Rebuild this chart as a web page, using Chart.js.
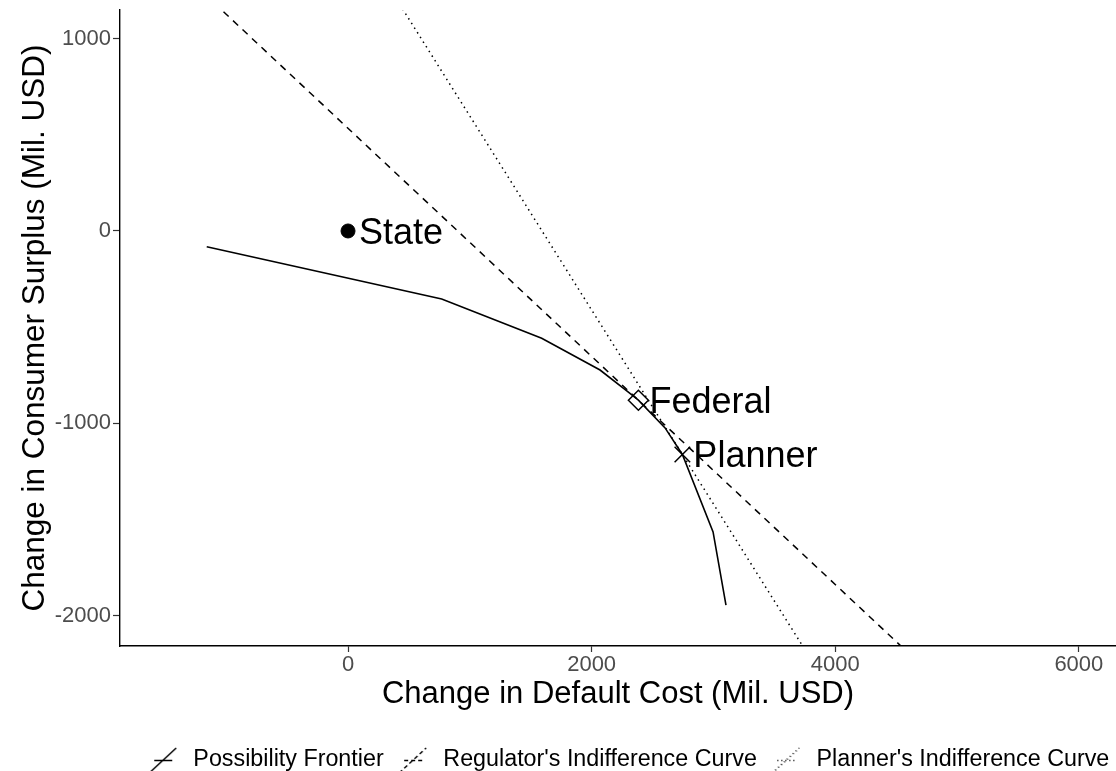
<!DOCTYPE html>
<html>
<head>
<meta charset="utf-8">
<script src="https://cdn.jsdelivr.net/npm/chart.js@4"></script>
<style>
  body { margin: 0; background: #fff; }
  #wrap { width: 1116px; height: 771px; }
</style>
</head>
<body>
<div id="wrap"><canvas id="myChart" width="1116" height="771"></canvas></div>
<script>
// tick labels
const xTicks = [0, 2000, 4000, 6000];
const yTicks = [-2000, -1000, 0, 1000];

// possibility frontier
const frontierX = [-1160, 769, 1590, 2069, 2299, 2384, 2603, 2745, 2997, 3103];
const frontierY = [-82, -354, -558, -723, -837, -880, -1024, -1162, -1565, -1945];

// indifference curves (end points, clipped by the axes)
const regulatorX = [-1100, 4600];
const regulatorY = [1186, -2194];
const plannerX = [400, 3760];
const plannerY = [1203, -2186];

// labelled outcomes
const outcomeNames = ['State', 'Federal', 'Planner'];
const outcomeX = [0, 2384, 2745];
const outcomeY = [0, -880, -1162];

const seriesNames = ['Possibility Frontier', "Regulator's Indifference Curve", "Planner's Indifference Curve"];

const FONT = "'Liberation Sans', Arial, sans-serif";
const LEGEND_SIZE = 23.3;
const LEGEND_PAD = 9;

function toXY(xs, ys) {
    return xs.map((x, i) => ({ x: x, y: ys[i] }));
}

// legend key like ggplot: a diagonal with a short horizontal stroke
function legendGlyph(dash) {
    const c = document.createElement('canvas');
    c.width = 30; c.height = 28;
    const g = c.getContext('2d');
    g.strokeStyle = '#000';
    g.lineWidth = 1.5;
    g.setLineDash(dash);
    g.beginPath();
    g.moveTo(2, 27);
    g.lineTo(29, 2);
    g.moveTo(7, 14.5);
    g.lineTo(25, 14.5);
    g.stroke();
    return c;
}

const outcomeLabels = {
    id: 'outcomeLabels',
    afterDatasetsDraw(chart) {
        const ctx = chart.ctx;
        ctx.save();
        ctx.font = '36px ' + FONT;
        ctx.fillStyle = '#000';
        ctx.textBaseline = 'middle';
        outcomeNames.forEach((name, i) => {
            const el = chart.getDatasetMeta(3 + i).data[0];
            ctx.fillText(name, el.x + 11, el.y + 3);
        });
        ctx.restore();
    }
};

// put the legend row where ggplot puts it
const legendShift = {
    id: 'legendShift',
    afterLayout(chart) {
        const l = chart.legend;
        l.left += 68; l.right += 68;
        const h = l.height;
        l.top = 760 - LEGEND_PAD - LEGEND_SIZE / 2;
        l.bottom = l.top + h;
    }
};

const ctx = document.getElementById('myChart').getContext('2d');
new Chart(ctx, {
    type: 'scatter',
    data: {
        datasets: [{
            label: seriesNames[0],
            data: toXY(frontierX, frontierY),
            showLine: true,
            borderColor: '#000',
            borderWidth: 1.6,
            pointRadius: 0,
            pointStyle: legendGlyph([])
        }, {
            label: seriesNames[1],
            data: toXY(regulatorX, regulatorY),
            showLine: true,
            borderColor: '#000',
            borderWidth: 1.5,
            borderDash: [7, 6],
            pointRadius: 0,
            pointStyle: legendGlyph([4, 3])
        }, {
            label: seriesNames[2],
            data: toXY(plannerX, plannerY),
            showLine: true,
            borderColor: '#000',
            borderWidth: 1.5,
            borderDash: [1.5, 4],
            pointRadius: 0,
            pointStyle: legendGlyph([1, 3])
        }, {
            label: outcomeNames[0],
            data: [{ x: outcomeX[0], y: outcomeY[0] }],
            pointStyle: 'circle',
            pointRadius: 7,
            backgroundColor: '#000',
            borderColor: '#000'
        }, {
            label: outcomeNames[1],
            data: [{ x: outcomeX[1], y: outcomeY[1] }],
            pointStyle: 'rectRot',
            pointRadius: 10,
            backgroundColor: '#fff',
            borderColor: '#000',
            borderWidth: 1.5
        }, {
            label: outcomeNames[2],
            data: [{ x: outcomeX[2], y: outcomeY[2] }],
            pointStyle: 'crossRot',
            pointRadius: 11,
            borderColor: '#000',
            borderWidth: 1.5
        }]
    },
    options: {
        responsive: false,
        animation: false,
        layout: { autoPadding: false, padding: { top: 10, right: 0, left: 0, bottom: 0 } },
        plugins: {
            tooltip: { enabled: false },
            legend: {
                position: 'bottom',
                labels: {
                    filter: item => item.datasetIndex < 3,
                    usePointStyle: true,
                    pointStyleWidth: 39,
                    color: '#000',
                    font: { family: FONT, size: LEGEND_SIZE },
                    padding: LEGEND_PAD
                }
            }
        },
        scales: {
            x: {
                type: 'linear',
                min: -1872,
                max: 6305,
                afterBuildTicks: scale => { scale.ticks = xTicks.map(v => ({ value: v })); },
                afterFit: scale => {
                    const lg = scale.chart.legend;
                    scale.height = 771 - 646 - (lg ? lg.height : 0);
                    scale.paddingLeft = 0;
                    scale.paddingRight = 0;
                },
                ticks: { color: '#4d4d4d', font: { family: FONT, size: 22 }, padding: 0, callback: v => String(v) },
                grid: { drawOnChartArea: false, tickLength: 6, color: '#333', tickWidth: 1.2 },
                border: { display: true, color: '#000', width: 1.4 },
                title: { display: true, text: 'Change in Default Cost (Mil. USD)', color: '#000', font: { family: FONT, size: 31 }, padding: { top: 0, bottom: 16 } }
            },
            y: {
                type: 'linear',
                min: -2158,
                max: 1149,
                afterBuildTicks: scale => { scale.ticks = yTicks.map(v => ({ value: v })); },
                afterFit: scale => {
                    scale.width = 120;
                    scale.paddingTop = 0;
                    scale.paddingBottom = 0;
                },
                ticks: { color: '#4d4d4d', font: { family: FONT, size: 22 }, padding: 2, callback: v => String(v) },
                grid: { drawOnChartArea: false, tickLength: 7, color: '#333', tickWidth: 1.2 },
                border: { display: true, color: '#000', width: 1.4 },
                title: { display: true, text: 'Change in Consumer Surplus (Mil. USD)', color: '#000', font: { family: FONT, size: 31.5 }, padding: { top: 16, bottom: 0 } }
            }
        }
    },
    plugins: [outcomeLabels, legendShift]
});
</script>
</body>
</html>
